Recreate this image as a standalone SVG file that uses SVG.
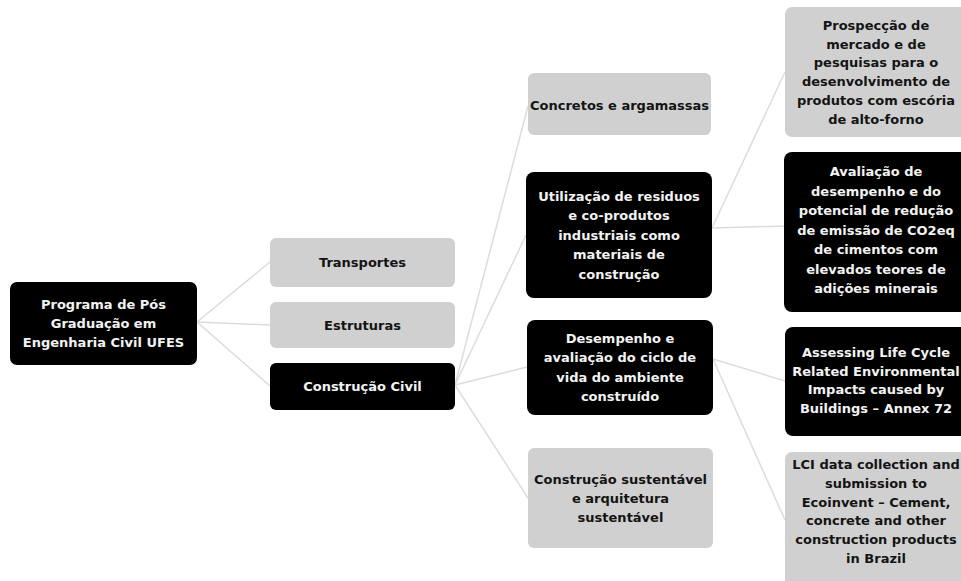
<svg xmlns="http://www.w3.org/2000/svg" width="961" height="581" viewBox="0 0 961 581">
<style>
.dark{fill:#000000}
.light{fill:#d0d0d0}
.tw{font-family:"DejaVu Sans",sans-serif;font-weight:bold;font-size:13px;fill:#f2f2f2;text-anchor:middle}
.tb{font-family:"DejaVu Sans",sans-serif;font-weight:bold;font-size:13px;fill:#141414;text-anchor:middle}
.conn line{stroke:#dcdcdc;stroke-width:1.5;fill:none}
</style>
<rect width="961" height="581" fill="#ffffff"/>
<g id="connectors" class="conn">
<line x1="197" y1="322" x2="270" y2="262"/>
<line x1="197" y1="322" x2="270" y2="325"/>
<line x1="197" y1="322" x2="270" y2="386"/>
<line x1="455" y1="385" x2="528" y2="106"/>
<line x1="455" y1="385" x2="526" y2="235"/>
<line x1="455" y1="385" x2="527" y2="367"/>
<line x1="455" y1="385" x2="528" y2="498"/>
<line x1="712" y1="228" x2="785" y2="72"/>
<line x1="712" y1="228" x2="785" y2="226"/>
<line x1="713" y1="359" x2="785" y2="381"/>
<line x1="713" y1="359" x2="785" y2="520"/>
</g>
<g id="root">
<rect class="dark" x="10" y="282" width="187" height="83" rx="7"/>
<text class="tw"><tspan x="103.5" y="309">Programa de Pós</tspan><tspan x="103.5" y="328">Graduação em</tspan><tspan x="103.5" y="347">Engenharia Civil UFES</tspan></text>
</g>
<g id="transportes">
<rect class="light" x="270" y="238" width="185" height="49" rx="6"/>
<text class="tb" x="362.5" y="267">Transportes</text>
</g>
<g id="estruturas">
<rect class="light" x="270" y="302" width="185" height="46" rx="6"/>
<text class="tb" x="362.5" y="329.5">Estruturas</text>
</g>
<g id="construcao-civil">
<rect class="dark" x="270" y="363" width="185" height="47" rx="6"/>
<text class="tw" x="362.5" y="391">Construção Civil</text>
</g>
<g id="concretos">
<rect class="light" x="528" y="73" width="183" height="62" rx="6"/>
<text class="tb" x="619.5" y="109.5">Concretos e argamassas</text>
</g>
<g id="utilizacao">
<rect class="dark" x="526" y="172" width="186" height="126" rx="8"/>
<text class="tw"><tspan x="619" y="200.5">Utilização de residuos</tspan><tspan x="619" y="220">e co-produtos</tspan><tspan x="619" y="239.5">industriais como</tspan><tspan x="619" y="259">materiais de</tspan><tspan x="619" y="278.5">construção</tspan></text>
</g>
<g id="desempenho">
<rect class="dark" x="527" y="320" width="186" height="95" rx="8"/>
<text class="tw"><tspan x="620" y="342.5">Desempenho e</tspan><tspan x="620" y="362">avaliação do ciclo de</tspan><tspan x="620" y="381.5">vida do ambiente</tspan><tspan x="620" y="401">construído</tspan></text>
</g>
<g id="construcao-sustentavel">
<rect class="light" x="528" y="448" width="185" height="100" rx="6"/>
<text class="tb"><tspan x="620.5" y="484">Construção sustentável</tspan><tspan x="620.5" y="503">e arquitetura</tspan><tspan x="620.5" y="522">sustentável</tspan></text>
</g>
<g id="prospeccao">
<rect class="light" x="785" y="7" width="190" height="130" rx="7"/>
<text class="tb"><tspan x="876" y="30">Prospecção de</tspan><tspan x="876" y="48.7">mercado e de</tspan><tspan x="876" y="67.4">pesquisas para o</tspan><tspan x="876" y="86.1">desenvolvimento de</tspan><tspan x="876" y="104.8">produtos com escória</tspan><tspan x="876" y="123.5">de alto-forno</tspan></text>
</g>
<g id="avaliacao">
<rect class="dark" x="784" y="152" width="190" height="160" rx="8"/>
<text class="tw"><tspan x="876" y="176">Avaliação de</tspan><tspan x="876" y="195.5">desempenho e do</tspan><tspan x="876" y="215">potencial de redução</tspan><tspan x="876" y="234.5">de emissão de CO2eq</tspan><tspan x="876" y="254">de cimentos com</tspan><tspan x="876" y="273.5">elevados teores de</tspan><tspan x="876" y="293">adições minerais</tspan></text>
</g>
<g id="assessing">
<rect class="dark" x="785" y="327" width="190" height="109" rx="8"/>
<text class="tw"><tspan x="876" y="357">Assessing Life Cycle</tspan><tspan x="876" y="375.5">Related Environmental</tspan><tspan x="876" y="394">Impacts caused by</tspan><tspan x="876" y="412.5">Buildings – Annex 72</tspan></text>
</g>
<g id="lci">
<rect class="light" x="785" y="452" width="190" height="145" rx="7"/>
<text class="tb"><tspan x="876" y="469">LCI data collection and</tspan><tspan x="876" y="487.8">submission to</tspan><tspan x="876" y="506.6">Ecoinvent – Cement,</tspan><tspan x="876" y="525.4">concrete and other</tspan><tspan x="876" y="544.2">construction products</tspan><tspan x="876" y="563">in Brazil</tspan></text>
</g>
</svg>
